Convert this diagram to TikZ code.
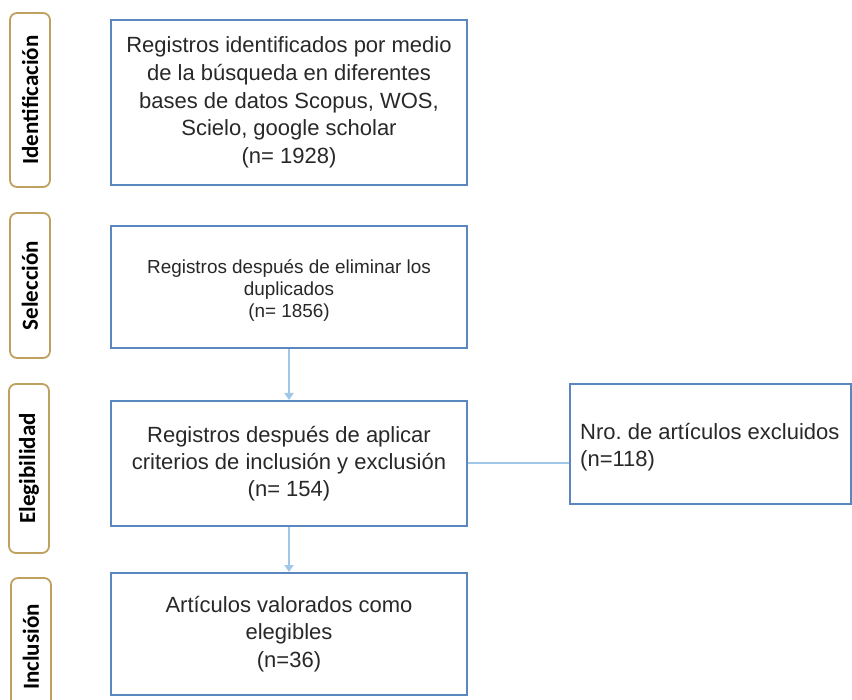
\documentclass[tikz,border=0pt]{standalone}
\usepackage{fontspec}
\setmainfont{Liberation Sans}
\newfontfamily\labfont{Carlito}
\usetikzlibrary{arrows.meta}
\frenchspacing
\definecolor{boxblue}{RGB}{90,135,190}
\definecolor{arrblue}{RGB}{160,198,232}
\definecolor{labgold}{RGB}{190,160,95}
\definecolor{txt}{RGB}{40,40,40}
\tikzset{
  x=1pt,y=1pt,
  mainbox/.style={draw=boxblue,line width=2pt,minimum width=356pt,align=center,text=txt,inner sep=0pt},
  sidebox/.style={draw=boxblue,line width=2pt,minimum width=281pt,minimum height=120pt,text=txt,inner sep=0pt},
  phase/.style={draw=labgold,line width=1.8pt,rounded corners=7pt,minimum width=40pt,text=black,inner sep=0pt,font=\labfont\bfseries\fontsize{23}{26}\selectfont},
  conn/.style={draw=arrblue,line width=2pt},
  arr/.style={conn,-{Triangle[width=9pt,length=7pt]}}
}
\begin{document}
\begin{tikzpicture}
\useasboundingbox (0,0) rectangle (852,-700);
\node[mainbox,minimum height=165pt,font=\fontsize{22}{27.8}\selectfont] (b1) at (289,-102.5)
  {Registros identificados por medio\\de la búsqueda en diferentes\\bases de datos Scopus, WOS,\\Scielo, google scholar\\(n= 1928)};
\node[mainbox,minimum height=122pt] (b2) at (289,-287) {};
\node[align=center,text=txt,inner sep=0pt,font=\fontsize{18.9}{22}\selectfont] (t2) at (289,-291)
  {Registros después de eliminar los\\duplicados\\(n= 1856)};
\node[mainbox,minimum height=125pt,font=\fontsize{22}{27}\selectfont] (b3) at (289,-463.5)
  {Registros después de aplicar\\criterios de inclusión y exclusión\\(n= 154)};
\node[mainbox,minimum height=122pt,font=\fontsize{22}{27.5}\selectfont] (b4) at (289,-634)
  {Artículos valorados como\\elegibles\\(n=36)};
\node[sidebox] (b5) at (710.5,-444) {};
\node[anchor=west,align=left,text=txt,font=\fontsize{22}{27}\selectfont,inner sep=0pt] (t5) at (580,-447)
  {Nro. de artículos excluidos\\(n=118)};
\node[phase,minimum height=174pt] (p1) at (30,-100) {\rotatebox{90}{Identificación}};
\node[phase,minimum height=145pt] (p2) at (30,-285.5) {\rotatebox{90}{Selección}};
\node[phase,minimum height=169pt] (p3) at (29,-468.5) {\rotatebox{90}{Elegibilidad}};
\node[phase,minimum height=138pt] (p4) at (31,-647) {\rotatebox{90}{Inclusión}};
\draw[arr] (b2.south) -- (b3.north);
\draw[arr] (b3.south) -- (b4.north);
\draw[conn] (b3.east) -- (b3.east -| b5.west);
\end{tikzpicture}
\end{document}
